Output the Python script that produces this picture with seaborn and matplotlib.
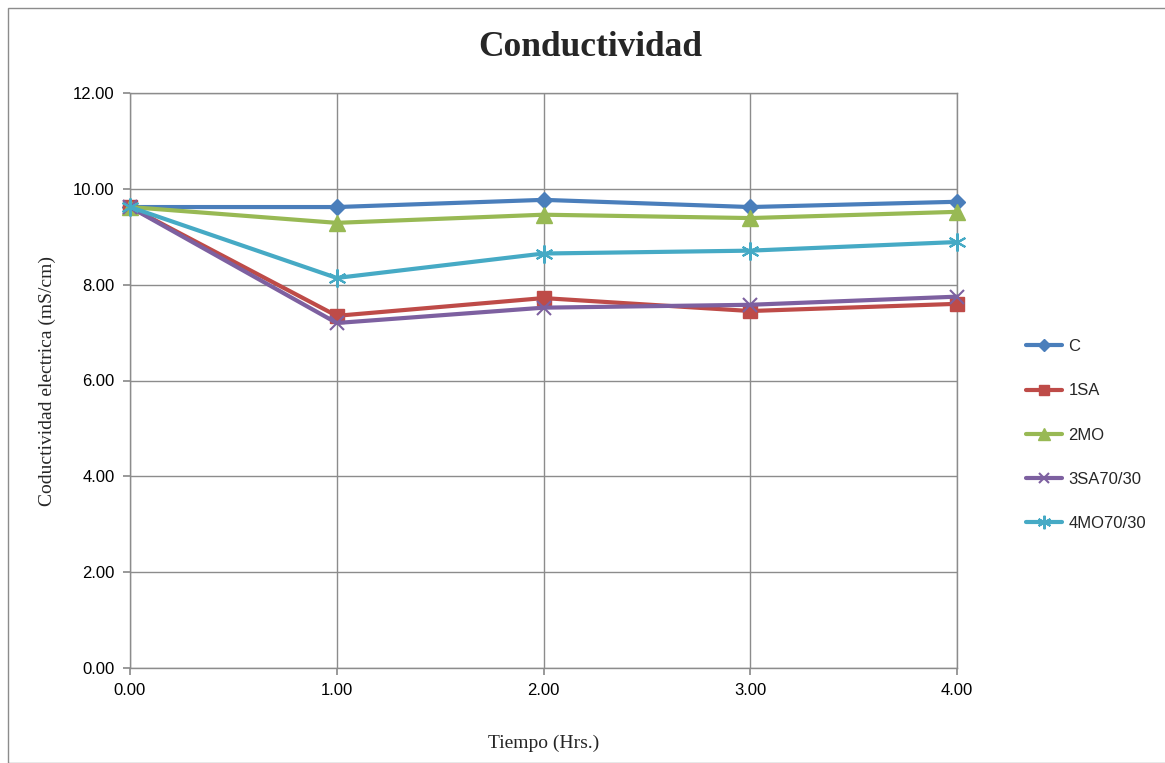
import matplotlib
matplotlib.use("Agg")
import matplotlib.pyplot as plt
import seaborn as sns
import pandas as pd
from matplotlib.patches import Rectangle
from matplotlib.ticker import FormatStrFormatter, MultipleLocator

tiempo = [0.0, 1.0, 2.0, 3.0, 4.0]
c_vals = [9.62, 9.62, 9.77, 9.62, 9.73]
sa_vals = [9.62, 7.35, 7.72, 7.45, 7.60]
mo_vals = [9.62, 9.29, 9.46, 9.39, 9.52]
sa7030_vals = [9.62, 7.20, 7.52, 7.58, 7.75]
mo7030_vals = [9.62, 8.14, 8.65, 8.71, 8.89]
series_names = ["C", "1SA", "2MO", "3SA70/30", "4MO70/30"]

rows = []
for name, vals in zip(series_names, [c_vals, sa_vals, mo_vals, sa7030_vals, mo7030_vals]):
    for t, v in zip(tiempo, vals):
        rows.append({"Tiempo": t, "Cond": v, "Serie": name})
df = pd.DataFrame(rows)

sns.set_theme(style="white")
plt.rcParams['font.family'] = ['Liberation Sans', 'DejaVu Sans']

colors = ["#4A7EBB", "#BE4B48", "#98B954", "#7D60A0", "#46AAC5"]
markers = ["D", "s", "^", "x", (6, 2, 0)]
msizes = [8, 10, 11, 10, 13]

fig = plt.figure(figsize=(11.65, 7.63), dpi=100)
ax = fig.add_axes([130/1165, 1-668/763, (957-130)/1165, (668-93)/763])

for name, col, mk, ms in zip(series_names, colors, markers, msizes):
    sub = df[df["Serie"] == name]
    sns.lineplot(data=sub, x="Tiempo", y="Cond", ax=ax, color=col, marker=mk,
                 markersize=ms, linewidth=3, label=name, markeredgecolor=col,
                 markeredgewidth=1.5 if mk in ("x",) or isinstance(mk, tuple) else 1,
                 clip_on=False, zorder=3)

ax.set_xlim(0, 4)
ax.set_ylim(0, 12)
ax.xaxis.set_major_locator(MultipleLocator(1))
ax.yaxis.set_major_locator(MultipleLocator(2))
ax.xaxis.set_major_formatter(FormatStrFormatter("%.2f"))
ax.yaxis.set_major_formatter(FormatStrFormatter("%.2f"))
ax.grid(True, color="#8C8C8C", linewidth=1)
for s in ax.spines.values():
    s.set_color("#8C8C8C")
    s.set_linewidth(1)
ax.tick_params(axis="both", labelsize=12, colors="#000000", length=5, color="#8C8C8C",
               direction="out", left=True, bottom=True, pad=6)
ax.set_xlabel("Tiempo (Hrs.)", fontsize=14, family=["Liberation Serif"], labelpad=26)
ax.set_ylabel("Coductividad electrica (mS/cm)", fontsize=14, family=["Liberation Serif"], labelpad=12)
fig.text(590/1165, 1-47/763, "Conductividad", ha="center", va="center", fontsize=25.5,
         fontweight="bold", family=["Liberation Serif"])

leg = ax.legend(loc="center left", bbox_to_anchor=(1.065, 0.405), frameon=False, fontsize=12,
                handlelength=2.2, labelspacing=1.75, handletextpad=0.35, markerscale=0.75)

fig.add_artist(Rectangle((8/1165, 0), 1, 1-8/763, transform=fig.transFigure,
                         fill=False, edgecolor="#8C8C8C", linewidth=1))

fig.savefig("out.png", dpi=100, facecolor="white")
